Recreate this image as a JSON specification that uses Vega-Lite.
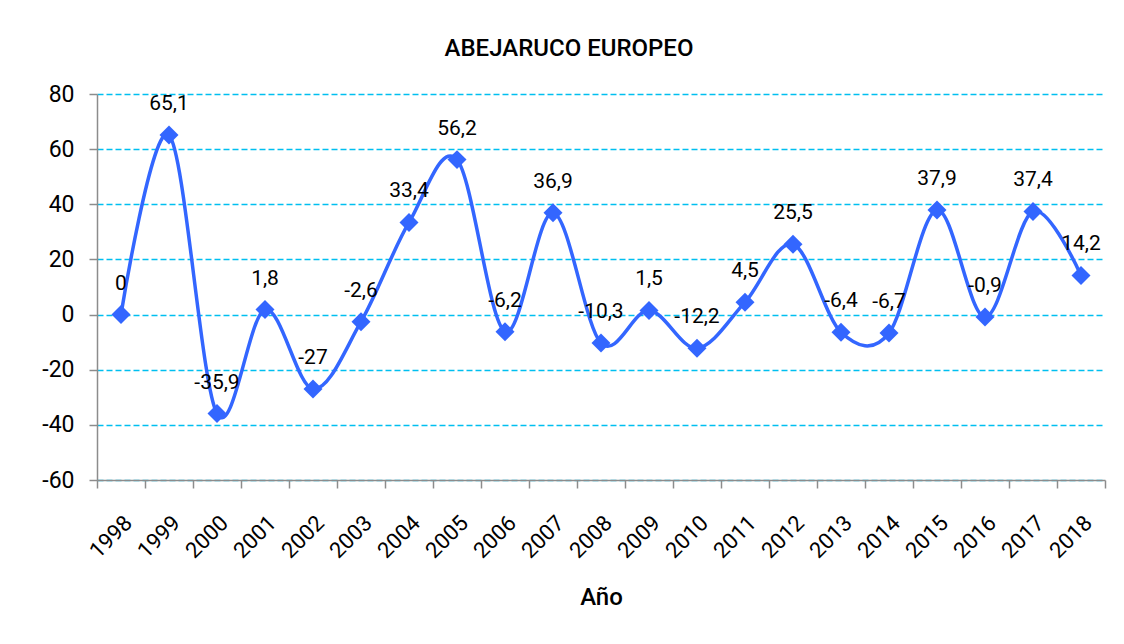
{
  "$schema": "https://vega.github.io/schema/vega-lite/v6.json",
  "width": 1008,
  "height": 386,
  "autosize": {"type": "none"},
  "padding": {"left": 97, "top": 94, "right": 19, "bottom": 164},
  "background": "white",
  "title": {
    "text": "ABEJARUCO EUROPEO",
    "font": "Roboto",
    "fontSize": 24,
    "fontWeight": 500,
    "color": "#000000",
    "anchor": "middle",
    "dx": -32,
    "offset": 22
  },
  "data": {
    "values": [
      {"year": "1998", "value": 0, "label": "0"},
      {"year": "1999", "value": 65.1, "label": "65,1"},
      {"year": "2000", "value": -35.9, "label": "-35,9"},
      {"year": "2001", "value": 1.8, "label": "1,8"},
      {"year": "2002", "value": -27, "label": "-27"},
      {"year": "2003", "value": -2.6, "label": "-2,6"},
      {"year": "2004", "value": 33.4, "label": "33,4"},
      {"year": "2005", "value": 56.2, "label": "56,2"},
      {"year": "2006", "value": -6.2, "label": "-6,2"},
      {"year": "2007", "value": 36.9, "label": "36,9"},
      {"year": "2008", "value": -10.3, "label": "-10,3"},
      {"year": "2009", "value": 1.5, "label": "1,5"},
      {"year": "2010", "value": -12.2, "label": "-12,2"},
      {"year": "2011", "value": 4.5, "label": "4,5"},
      {"year": "2012", "value": 25.5, "label": "25,5"},
      {"year": "2013", "value": -6.4, "label": "-6,4"},
      {"year": "2014", "value": -6.7, "label": "-6,7"},
      {"year": "2015", "value": 37.9, "label": "37,9"},
      {"year": "2016", "value": -0.9, "label": "-0,9"},
      {"year": "2017", "value": 37.4, "label": "37,4"},
      {"year": "2018", "value": 14.2, "label": "14,2"}
    ]
  },
  "encoding": {
    "x": {
      "field": "year",
      "type": "ordinal",
      "scale": {"type": "band", "paddingInner": 0, "paddingOuter": 0},
      "axis": {
        "title": "Año",
        "titleFont": "Roboto",
        "titleFontSize": 24,
        "titleFontWeight": 500,
        "titleColor": "#000000",
        "titlePadding": 24,
        "labelAngle": -45,
        "labelFont": "Roboto",
        "labelFontSize": 22,
        "labelColor": "#000000",
        "labelPadding": 24,
        "tickBand": "extent",
        "tickSize": 8,
        "tickColor": "#8c8c8c",
        "domainColor": "#8c8c8c",
        "domainWidth": 1.5,
        "tickWidth": 1.5,
        "grid": false
      }
    },
    "y": {
      "field": "value",
      "type": "quantitative",
      "scale": {"domain": [-60, 80], "nice": false, "zero": false},
      "axis": {
        "title": null,
        "values": [-60, -40, -20, 0, 20, 40, 60, 80],
        "labelFont": "Roboto",
        "labelFontSize": 23,
        "labelColor": "#000000",
        "labelPadding": 15,
        "tickSize": 8,
        "tickColor": "#8c8c8c",
        "tickWidth": 1.5,
        "domainColor": "#8c8c8c",
        "domainWidth": 1.5,
        "grid": true,
        "gridColor": "#00BFF0",
        "gridDash": [6, 3],
        "gridWidth": 1.5
      }
    }
  },
  "layer": [
    {
      "mark": {"type": "line", "interpolate": "cardinal", "color": "#3366FF", "strokeWidth": 3.5}
    },
    {
      "mark": {"type": "point", "shape": "diamond", "filled": true, "color": "#3366FF", "size": 360, "opacity": 1}
    },
    {
      "mark": {"type": "text", "font": "Roboto", "fontSize": 21, "color": "#000000", "dy": -31, "baseline": "middle"},
      "encoding": {"text": {"field": "label"}}
    }
  ],
  "config": {
    "view": {"stroke": null},
    "locale": {
      "number": {
        "decimal": ",",
        "thousands": ".",
        "grouping": [3],
        "currency": ["", " €"],
        "minus": "-"
      }
    }
  }
}
